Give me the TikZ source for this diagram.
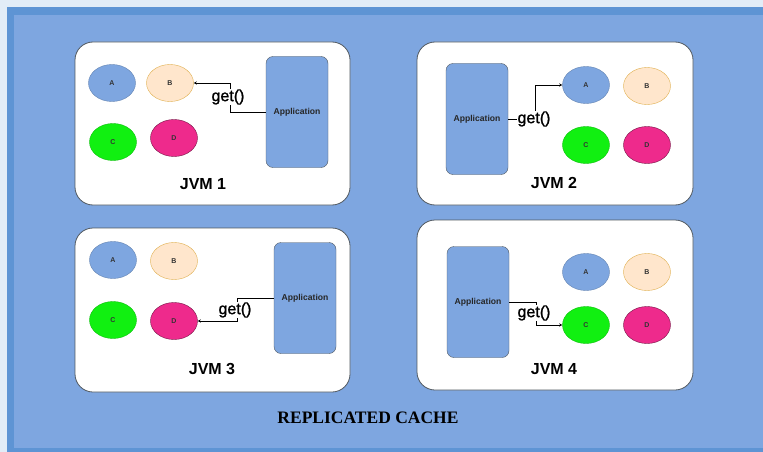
\documentclass[tikz,border=0pt]{standalone}
\usepackage{fontspec}
\setmainfont{Liberation Sans}
\newfontfamily\capfont{Liberation Serif}
\newfontfamily\getfont[FakeBold=1.3]{Liberation Sans}
\usepackage{tikz}
\usetikzlibrary{shapes.geometric}
\definecolor{canvas}{HTML}{7EA6E0}
\definecolor{frame}{HTML}{5E94D4}
\definecolor{haze}{HTML}{E2ECF7}
\definecolor{peach}{HTML}{FFE6CC}
\definecolor{amber}{HTML}{E0B050}
\definecolor{lime}{HTML}{11F011}
\definecolor{pink}{HTML}{EE2A8C}
\definecolor{edge}{HTML}{505860}

\begin{document}
\begin{tikzpicture}[x=1pt,y=-1pt,
    panel/.style={draw=edge, fill=white, rounded corners=18pt, line width=0.8pt},
    app/.style={draw=edge, fill=canvas, rounded corners=7pt, minimum width=62pt, minimum height=111pt, font=\fontsize{8.6}{10}\bfseries, text=black!85},
    blob/.style={ellipse, inner sep=0pt, minimum width=47pt, minimum height=37pt, font=\fontsize{7}{8}\bfseries, text=black!80},
    getlbl/.style={fill=white, inner sep=1pt, font=\getfont\fontsize{16}{18}\selectfont},
    jvm/.style={font=\fontsize{16}{19}\bfseries},
    >=stealth]
    % background
    \fill[haze] (0,0) rectangle (763,452);
    \fill[frame] (7,7) rectangle (763,452);
    \fill[canvas] (14,15) rectangle (763,448);
    \draw[panel] (75,42) rectangle (350,205);
    \draw[panel] (417,42) rectangle (693,205);
    \draw[panel] (75,228) rectangle (350,392);
    \draw[panel] (417,220) rectangle (693,390);

    % JVM 1
    \node[blob, fill=canvas, draw=canvas!80!black] (a1) at (112,83) {A};
    \node[blob, fill=peach, draw=amber] (b1) at (170,83) {B};
    \node[blob, fill=lime, draw=lime!80!black] (c1) at (113,142) {C};
    \node[blob, fill=pink, draw=pink!50!black] (d1) at (174,138) {D};
    \node[app] (app1) at (297,112) {Application};
    \draw[->] (app1.west) -- ++(-36,0) |- (b1.east);
    \node[getlbl] (get1) at (228,97) {get()};
    \node[jvm] (jvm1) at (203,184) {JVM 1};

    % JVM 2
    \node[app] (app2) at (477,119) {Application};
    \node[blob, fill=canvas, draw=canvas!80!black] (a2) at (586,85) {A};
    \node[blob, fill=peach, draw=amber] (b2) at (647,86) {B};
    \node[blob, fill=lime, draw=lime!80!black] (c2) at (586,145) {C};
    \node[blob, fill=pink, draw=pink!50!black] (d2) at (647,145) {D};
    \draw[->] (app2.east) -- ++(27,0) |- (a2.west);
    \node[getlbl] (get2) at (534,119) {get()};
    \node[jvm] (jvm2) at (554,183) {JVM 2};

    % JVM 3
    \node[blob, fill=canvas, draw=canvas!80!black] (a3) at (113,260) {A};
    \node[blob, fill=peach, draw=amber] (b3) at (174,261) {B};
    \node[blob, fill=lime, draw=lime!80!black] (c3) at (113,320) {C};
    \node[blob, fill=pink, draw=pink!50!black] (d3) at (174,321) {D};
    \node[app] (app3) at (305,298) {Application};
    \draw[->] (app3.west) -- ++(-37,0) |- (d3.east);
    \node[getlbl] (get3) at (235,310) {get()};
    \node[jvm] (jvm3) at (212,369) {JVM 3};

    % JVM 4
    \node[app] (app4) at (478,302) {Application};
    \node[blob, fill=canvas, draw=canvas!80!black] (a4) at (586,272) {A};
    \node[blob, fill=peach, draw=amber] (b4) at (647,272) {B};
    \node[blob, fill=lime, draw=lime!80!black] (c4) at (586,325) {C};
    \node[blob, fill=pink, draw=pink!50!black] (d4) at (647,325) {D};
    \draw[->] (app4.east) -- ++(27,0) |- (c4.west);
    \node[getlbl] (get4) at (534,313) {get()};
    \node[jvm] (jvm4) at (554,369) {JVM 4};

    \node[font=\capfont\fontsize{17.5}{20}\bfseries] (title) at (368,418) {REPLICATED CACHE};
  \end{tikzpicture}
\end{document}
